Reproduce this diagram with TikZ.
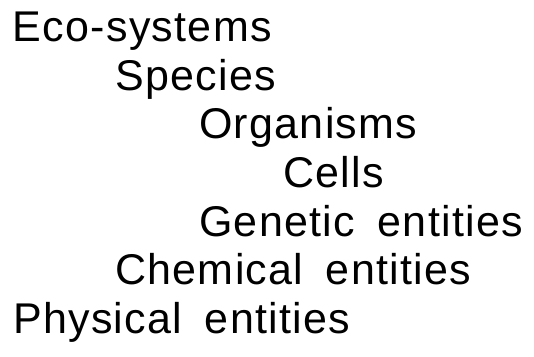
\documentclass[tikz,border=0pt]{standalone}
\usepackage{fontspec}
\setmainfont{Liberation Sans}[WordSpace=1.7,LetterSpace=3]
\begin{document}
\begin{tikzpicture}[x=1pt,y=1pt,
  item/.style={anchor=base west,inner sep=0pt,font=\fontsize{43}{43}\selectfont}]
\useasboundingbox (0,0) rectangle (534,356);
\node[item] (eco) at (12.5,314) {Eco-systems};
\node[item] (spe) at (115,265.5) {Species};
\node[item] (org) at (199,217) {Organisms};
\node[item] (cel) at (283,168.5) {Cells};
\node[item] (gen) at (199,120) {Genetic entities};
\node[item] (che) at (115,71.5) {Chemical entities};
\node[item] (phy) at (13,23) {Physical entities};
\end{tikzpicture}
\end{document}
